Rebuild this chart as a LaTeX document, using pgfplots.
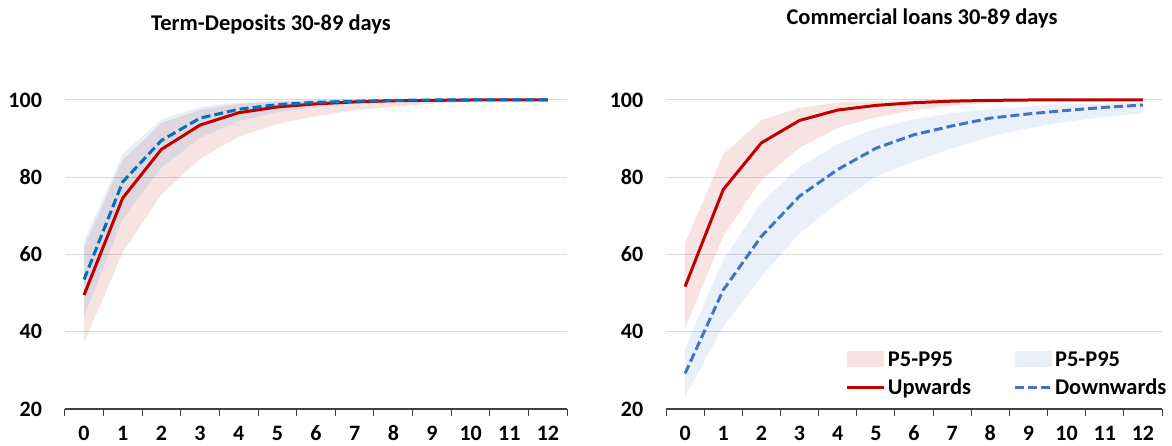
\documentclass[border=0pt]{standalone}
\usepackage{fontspec}
\setmainfont{Carlito}
\usepackage{pgfplots}
\pgfplotsset{compat=1.18}
\definecolor{upred}{HTML}{C00000}
\definecolor{dnblueL}{HTML}{0070C0}
\definecolor{dnblueR}{HTML}{4472C4}
\definecolor{gridc}{HTML}{D9D9D9}
\definecolor{axc}{HTML}{404040}
\pgfplotsset{
  myaxis/.style={
    scale only axis, height=309pt,
    xmin=-0.5, xmax=12.5, ymin=20, ymax=100,
    xtick={0,...,12}, ytick={20,40,...,100},
    minor xtick={-0.5,0.5,...,12.5},
    major x tick style={draw=none},
    minor x tick style={draw=axc, line width=1pt},
    minor tick length=7pt,
    tick align=outside, xtick pos=bottom, ytick pos=left,
    major y tick style={draw=none},
    ymajorgrids, grid style={gridc, line width=1pt},
    axis y line*=left, axis x line*=bottom,
    y axis line style={draw=none},
    x axis line style={axc, line width=1.2pt},
    /pgf/number format/assume math mode=true,
    tick label style={font=\fontsize{22}{26}\selectfont\bfseries},
    xticklabel style={yshift=-9pt},
    yticklabel style={xshift=-15pt},
    clip=false,
    axis on top=false,
  }
}
\begin{document}
\begin{tikzpicture}
\useasboundingbox (0,0) rectangle (1172pt,446pt);
% ---------------- Left panel
\begin{axis}[myaxis, at={(64.7pt,37pt)}, anchor=south west, width=502.6pt]
\addplot[fill=upred, fill opacity=0.11, draw=none] coordinates {
 (0,62.0) (1,84.5) (2,94.0) (3,97.5) (4,99.0) (5,99.6) (6,99.9) (7,100) (8,100) (9,100) (10,100) (11,100) (12,100)
 (12,100) (11,99.8) (10,99.5) (9,99.0) (8,98.3) (7,97.3) (6,95.8) (5,93.8) (4,90.5) (3,84.8) (2,75.5) (1,60.5) (0,37.1)} -- cycle;
\addplot[fill=dnblueL, fill opacity=0.10, draw=none] coordinates {
 (0,63.5) (1,86.0) (2,95.0) (3,98.2) (4,99.3) (5,99.8) (6,100) (7,100) (8,100) (9,100) (10,100) (11,100) (12,100)
 (12,100) (11,100) (10,99.9) (9,99.8) (8,99.5) (7,99.0) (6,98.2) (5,96.8) (4,94.6) (3,90.2) (2,82.5) (1,69.0) (0,44.0)} -- cycle;
\addplot[upred, line width=3pt] coordinates {
 (0,49.5) (1,74.6) (2,87.2) (3,93.5) (4,96.7) (5,98.2) (6,99.0) (7,99.5) (8,99.8) (9,99.9) (10,100) (11,100) (12,100)};
\addplot[dnblueL, line width=3pt, dash pattern=on 9pt off 4pt] coordinates {
 (0,53.5) (1,78.8) (2,89.5) (3,95.3) (4,97.6) (5,98.8) (6,99.4) (7,99.7) (8,99.9) (9,100) (10,100) (11,100) (12,100)};
\end{axis}
\node[font=\fontsize{22.5}{26}\selectfont\bfseries] at (271pt,422pt) {Term-Deposits 30-89 days};
% ---------------- Right panel
\begin{axis}[myaxis, at={(666pt,37pt)}, anchor=south west, width=496pt,
  legend columns=2,
  legend style={at={(axis cs:12.75,22.3)}, anchor=south east, draw=none, fill=none,
    font=\fontsize{22.5}{26}\selectfont\bfseries,
    /tikz/every even column/.append style={column sep=40pt},
    row sep=7pt},
  legend cell align=left]
\addplot[fill=upred, fill opacity=0.11, draw=none,
  legend image code/.code={\fill[upred, fill opacity=0.11] (0pt,-8pt) rectangle (37pt,8pt);}] coordinates {
 (0,63.0) (1,85.9) (2,94.8) (3,98.0) (4,99.3) (5,99.7) (6,99.9) (7,100) (8,100) (9,100) (10,100) (11,100) (12,100)
 (12,100) (11,99.9) (10,99.8) (9,99.6) (8,99.2) (7,98.5) (6,97.3) (5,95.5) (4,92.8) (3,87.6) (2,79.3) (1,64.7) (0,40.9)} -- cycle;
\addlegendentry{P5-P95}
\addplot[fill=dnblueR, fill opacity=0.11, draw=none,
  legend image code/.code={\fill[dnblueR, fill opacity=0.11] (0pt,-8pt) rectangle (37pt,8pt);}] coordinates {
 (0,35.7) (1,58.6) (2,73.3) (3,82.7) (4,88.5) (5,92.7) (6,95.0) (7,96.6) (8,97.6) (9,98.3) (10,98.8) (11,99.1) (12,99.3)
 (12,96.6) (11,95.6) (10,94.4) (9,92.7) (8,90.5) (7,87.5) (6,84.1) (5,80.2) (4,73.3) (3,65.5) (2,54.3) (1,41.3) (0,23.2)} -- cycle;
\addlegendentry{P5-P95}
\addplot[upred, line width=3pt,
  legend image code/.code={\draw[upred, line width=3pt] (0pt,0pt) -- (37pt,0pt);}] coordinates {
 (0,51.7) (1,76.8) (2,88.9) (3,94.7) (4,97.4) (5,98.6) (6,99.3) (7,99.7) (8,99.9) (9,100) (10,100) (11,100) (12,100)};
\addlegendentry{Upwards}
\addplot[dnblueR, line width=3pt, dash pattern=on 9pt off 4pt,
  legend image code/.code={\draw[dnblueR, line width=3pt, dash pattern=on 9pt off 4pt] (0pt,0pt) -- (37pt,0pt);}] coordinates {
 (0,29.2) (1,50.8) (2,64.7) (3,75.1) (4,82.0) (5,87.5) (6,91.0) (7,93.3) (8,95.3) (9,96.4) (10,97.3) (11,98.1) (12,98.7)};
\addlegendentry{Downwards}
\end{axis}
\node[font=\fontsize{22.5}{26}\selectfont\bfseries] at (922pt,428pt) {Commercial loans 30-89 days};
\end{tikzpicture}
\end{document}
